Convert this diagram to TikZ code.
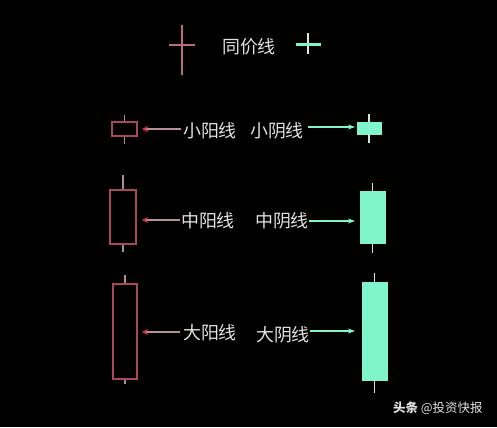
\documentclass[tikz,border=0pt]{standalone}
\usepackage{fontspec}
\newfontfamily\cjk{Noto Sans CJK SC}
\usetikzlibrary{arrows.meta}
\definecolor{bgc}{HTML}{000000}
\definecolor{redc}{HTML}{A8485A}
\definecolor{wickc}{HTML}{A89098}
\definecolor{cyanc}{HTML}{80F5CC}
\definecolor{txtc}{HTML}{E2E2E2}
\definecolor{arrowred}{HTML}{E0304A}
\definecolor{redline}{HTML}{B89098}
\tikzset{
  lbl/.style={text=txtc, font=\cjk\fontsize{18}{21}\selectfont, inner sep=0pt},
  redbox/.style={draw=redc, line width=1.4bp, fill=black, inner sep=0pt},
  cyanbox/.style={draw=cyanc, fill=cyanc, inner sep=0pt},
  redwick/.style={draw=wickc, line width=1.1bp},
  cyanwick/.style={draw=txtc!80!cyanc, line width=1.1bp},
  redarr/.style={draw=redline, line width=1.3bp, -{Stealth[length=6bp,width=6bp,color=arrowred]}},
  cyanarr/.style={draw=cyanc, line width=1.2bp, -{Stealth[length=7bp,width=5bp]}},
}
\begin{document}
\begin{tikzpicture}[x=1bp,y=-1bp]
\fill[bgc] (0,0) rectangle (497,427);
\useasboundingbox (0,0) rectangle (497,427);

% top: same-price line
\coordinate (rct) at (182,25); \coordinate (rcb) at (182,75);
\coordinate (rcl) at (169,45); \coordinate (rcr) at (195,45);
\draw[draw=redc!80!white, line width=1.1bp] (rct) -- (rcb) (rcl) -- (rcr);
\node[lbl] (t0) at (249,47) {同价线};
\coordinate (cct) at (308,33); \coordinate (ccb) at (308,54);
\coordinate (ccl) at (296,44); \coordinate (ccr) at (321,44);
\draw[draw=txtc, line width=1.1bp] (cct) -- (ccb);
\draw[draw=cyanc, line width=3bp] (ccl) -- (ccr);

% row 1: small
\node[redbox, minimum width=25bp, minimum height=14bp] (b1) at (124.5,129) {};
\draw[redwick] (124.5,115) -- (b1.north) (b1.south) -- (124.5,144);
\node[lbl] (t1) at (210,131) {小阳线};
\node[lbl] (u1) at (277,131) {小阴线};
\node[cyanbox, minimum width=24bp, minimum height=12bp] (c1) at (369,128) {};
\draw[cyanwick] (369,114) -- (c1.north) (c1.south) -- (369,143);
\coordinate (a1s) at (181,129); \coordinate (a1e) at (142,129);
\draw[redarr] (a1s) -- (a1e);
\coordinate (d1s) at (308,127); \coordinate (d1e) at (355,127);
\draw[cyanarr] (d1s) -- (d1e);

% row 2: medium
\node[redbox, minimum width=26bp, minimum height=54bp] (b2) at (123,217) {};
\draw[redwick] (123,175) -- (b2.north) (b2.south) -- (123,252);
\node[lbl] (t2) at (208,221) {中阳线};
\node[lbl] (u2) at (282,221) {中阴线};
\node[cyanbox, minimum width=25bp, minimum height=52bp] (c2) at (372.5,217) {};
\draw[cyanwick] (372.5,183) -- (c2.north) (c2.south) -- (372.5,253);
\coordinate (a2s) at (180,220); \coordinate (a2e) at (142,220);
\draw[redarr] (a2s) -- (a2e);
\coordinate (d2s) at (309,221); \coordinate (d2e) at (355,221);
\draw[cyanarr] (d2s) -- (d2e);

% row 3: large
\node[redbox, minimum width=24bp, minimum height=95bp] (b3) at (125,331.5) {};
\draw[redwick] (125,275) -- (b3.north) (b3.south) -- (125,384);
\node[lbl] (t3) at (210,333) {大阳线};
\node[lbl] (u3) at (283,335) {大阴线};
\node[cyanbox, minimum width=25bp, minimum height=98bp] (c3) at (374.5,331) {};
\draw[cyanwick] (374.5,273) -- (c3.north) (c3.south) -- (374.5,393);
\coordinate (a3s) at (180,332); \coordinate (a3e) at (142,332);
\draw[redarr] (a3s) -- (a3e);
\coordinate (d3s) at (310,331); \coordinate (d3e) at (355,331);
\draw[cyanarr] (d3s) -- (d3e);

% watermark
\node[text=txtc, font=\cjk\fontsize{12.5}{14}\selectfont, inner sep=0pt, anchor=west] (wm) at (393,408) {{\bfseries 头条} @投资快报};
\end{tikzpicture}
\end{document}
